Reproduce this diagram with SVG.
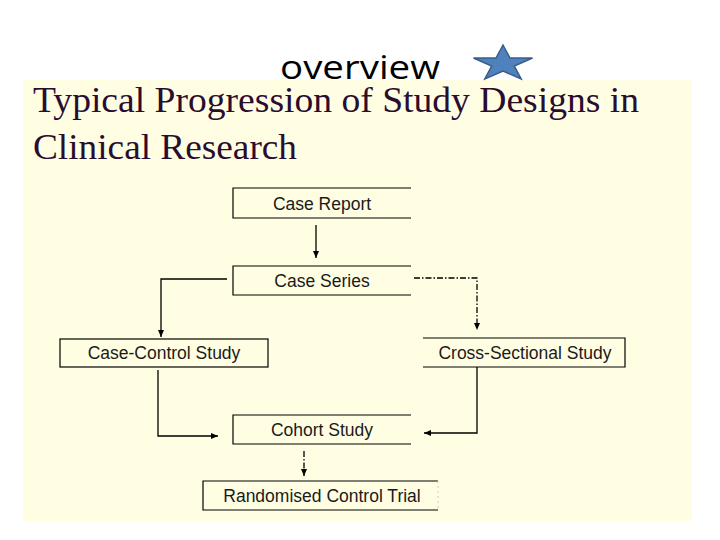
<svg xmlns="http://www.w3.org/2000/svg" width="720" height="540" viewBox="0 0 720 540">
<style>
.box{fill:none;stroke:#000;stroke-width:1.2}
.lbl{font-family:"Liberation Sans",Arial,sans-serif;font-size:17.5px;fill:#1a1a1a;text-anchor:middle}
.title{font-family:"Liberation Serif","Times New Roman",serif;font-size:35px;fill:#2a0d2e}
.c{fill:none;stroke:#000;stroke-width:1.3}
.dd{stroke-dasharray:6 2 1.5 2}
</style>
<defs>
<marker id="ah" markerWidth="8" markerHeight="8" refX="7" refY="4" orient="auto" markerUnits="userSpaceOnUse">
<path d="M0,1 L7,4 L0,7 Z" fill="#000"/>
</marker>
</defs>
<rect x="0" y="0" width="720" height="540" fill="#fff"/>
<rect x="23" y="80" width="669" height="441" fill="#fffee3"/>
<text x="280" y="79" font-family="'Open Sans','Noto Sans',sans-serif" font-size="33" fill="#000" textLength="160" lengthAdjust="spacingAndGlyphs">overview</text>
<polygon points="503,45 510,58 532.5,58 514.3,66 521.2,79 503,71 484.8,79 491.7,66 473.5,58 496,58" fill="#4f81bd" stroke="#385d8a" stroke-width="1.5" stroke-linejoin="miter"/>
<text class="title" x="33" y="112" textLength="606" lengthAdjust="spacingAndGlyphs">Typical Progression of Study Designs in</text>
<text class="title" x="33" y="159" textLength="264" lengthAdjust="spacingAndGlyphs">Clinical Research</text>

<g id="case-report">
<path class="box" d="M411,188 H233 V218 H411"/>
<text class="lbl" x="322" y="210">Case Report</text>
</g>
<g id="case-series">
<path class="box" d="M411,266 H233 V295 H411"/>
<text class="lbl" x="322" y="287">Case Series</text>
</g>
<g id="case-control">
<rect class="box" x="60" y="339" width="208" height="28"/>
<text class="lbl" x="164" y="359">Case-Control Study</text>
</g>
<g id="cross-sectional">
<path class="box" d="M423,338 H625 V367 H423"/>
<text class="lbl" x="525" y="359">Cross-Sectional Study</text>
</g>
<g id="cohort">
<path class="box" d="M411,415 H233 V444 H411"/>
<text class="lbl" x="322" y="436">Cohort Study</text>
</g>
<g id="rct">
<path class="box" d="M438,481 H203 V510 H438"/>
<path d="M438,481 V510" stroke="#ccc" stroke-width="1" stroke-dasharray="2 3"/>
<text class="lbl" x="322" y="502">Randomised Control Trial</text>
</g>

<g id="connectors">
<path class="c" d="M316,225 V258" marker-end="url(#ah)" stroke-width="1.6"/>
<path class="c" d="M227,279 H161 V337" marker-end="url(#ah)"/>
<path class="c dd" d="M414,278 H477 V330" marker-end="url(#ah)"/>
<path class="c" d="M158,370 V436 H218" marker-end="url(#ah)" stroke-width="1.6"/>
<path class="c" d="M477,367 V433 H424" marker-end="url(#ah)"/>
<path class="c dd" d="M304,451 V476" marker-end="url(#ah)"/>
</g>
</svg>
